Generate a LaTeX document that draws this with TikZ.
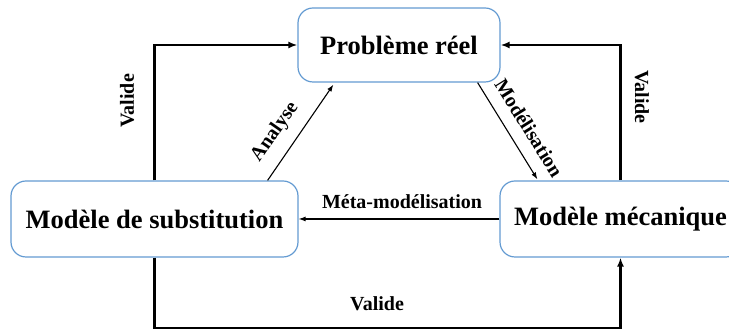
\documentclass[tikz,border=0pt]{standalone}
\usepackage{fontspec}
\setmainfont{Liberation Serif}
\usetikzlibrary{arrows.meta,calc}
\definecolor{boxblue}{RGB}{100,155,210}
\begin{document}
\begin{tikzpicture}[x=1pt,y=1pt,
  box/.style={draw=boxblue,line width=1.2pt,rounded corners=15pt,fill=white,inner sep=0pt,font=\fontsize{26.5}{30}\selectfont\bfseries},
  thickarrow/.style={line width=2.6pt,-{Latex[length=9pt,width=7pt]}},
  thinarrow/.style={line width=1.1pt,-{Latex[length=7pt,width=5pt]}},
  lab/.style={font=\fontsize{20}{23}\selectfont\bfseries,inner sep=0pt}]
\useasboundingbox (0,0) rectangle (729,331);
\node[box,minimum width=202pt,minimum height=74pt] (top) at (399,286) {Problème réel};
\node[box,minimum width=287pt,minimum height=76pt] (left) at (154.5,112) {Modèle de substitution};
\node[box,minimum width=241pt,minimum height=76pt] (right) at (620.5,112) {Modèle mécanique};
\coordinate (b1) at (154.5,3);
\draw[thickarrow] (left.north) |- (top.west);
\draw[thickarrow] (right.north) |- (top.east);
\draw[thickarrow] (left.south) -- (b1) -| (right.south);
\draw[thinarrow] ([xshift=-31pt]left.north east) -- ([xshift=36pt,yshift=-2pt]top.south west);
\draw[thinarrow] ([xshift=-23pt]top.south east) -- ([xshift=38pt,yshift=1pt]right.north west);
\draw[thinarrow] (right.west) -- (left.east);
\node[lab,rotate=90] (v1) at (127,230) {Valide};
\node[lab,rotate=-90] (v2) at (642,234) {Valide};
\node[lab] (v3) at (377,27) {Valide};
\node[lab] (meta) at (402,129) {Méta-modélisation};
\node[lab,rotate=55] (ana) at (275,199) {Analyse};
\node[lab,rotate=-58] (mod) at (529,203) {Modélisation};
\end{tikzpicture}
\end{document}
